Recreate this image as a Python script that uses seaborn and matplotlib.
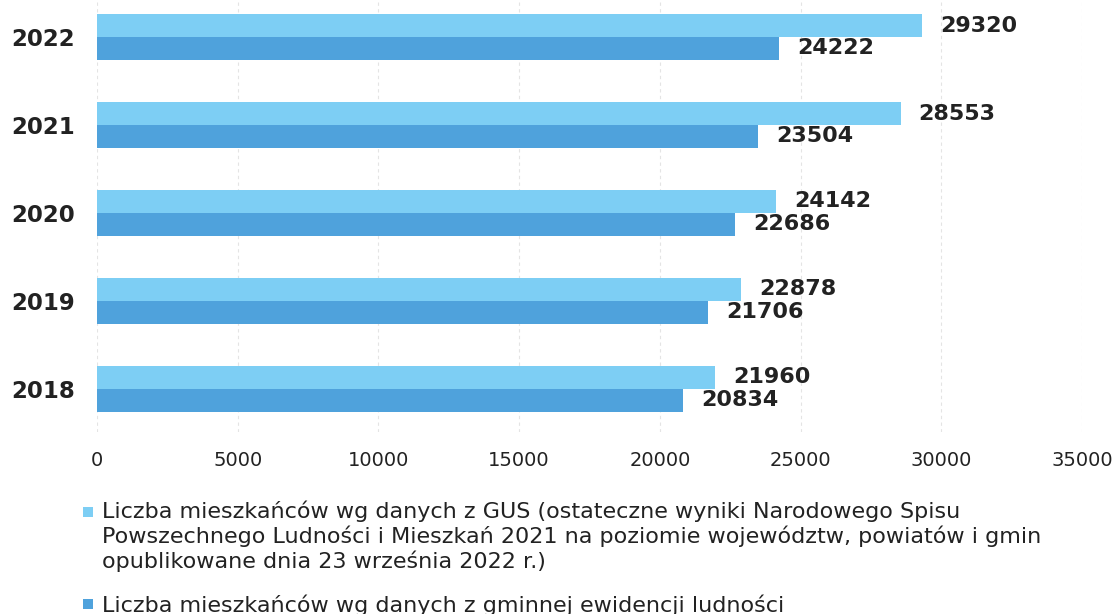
import pandas as pd
import matplotlib.pyplot as plt
import seaborn as sns
from matplotlib.patches import Rectangle

# data
years = ["2022", "2021", "2020", "2019", "2018"]
gus = [29320, 28553, 24142, 22878, 21960]
gminna = [24222, 23504, 22686, 21706, 20834]

label_gus = ("Liczba mieszkańców wg danych z GUS (ostateczne wyniki Narodowego Spisu\n"
             "Powszechnego Ludności i Mieszkań 2021 na poziomie województw, powiatów i gmin\n"
             "opublikowane dnia 23 września 2022 r.)")
label_gm = "Liczba mieszkańców wg danych z gminnej ewidencji ludności"
colors = ["#7DCEF4", "#4FA2DC"]

df = pd.DataFrame({
    "rok": years * 2,
    "wartosc": gus + gminna,
    "zrodlo": [label_gus] * len(years) + [label_gm] * len(years),
})

sns.set_theme(style="white")
plt.rcParams["font.family"] = ["DejaVu Sans"]

W, H = 1120, 614
fig = plt.figure(figsize=(W / 100, H / 100), dpi=100)
ax = fig.add_axes([0.0866, 0.2964, 0.8795, 0.7036])

sns.barplot(data=df, x="wartosc", y="rok", hue="zrodlo", orient="h",
            palette=colors, width=0.52, errorbar=None,
            saturation=1, linewidth=0, ax=ax)

for cont in ax.containers:
    ax.bar_label(cont, padding=13, fontsize=16, fontweight="bold", color="#222222")

ax.set_xlim(0, 35000)
ax.set_ylim(4.49, -0.42)
ax.set_xticks(range(0, 35001, 5000))
ax.set_xlabel("")
ax.set_ylabel("")
ax.grid(axis="x", color="#e4e4e4", linewidth=0.8, linestyle=(0, (3, 3)))
ax.set_axisbelow(True)
sns.despine(ax=ax, left=True, bottom=True)
ax.tick_params(axis="x", length=0, pad=14, labelsize=14, labelcolor="#222222")
ax.tick_params(axis="y", length=0, pad=16, labelsize=16.5, labelcolor="#222222")
for t in ax.get_yticklabels():
    t.set_fontweight("bold")

# legend below the plot (second entry runs off the bottom edge like in the scan)
ax.get_legend().remove()
# (label, colour, top of square in px, baseline of last text line in px)
entries = [(label_gus, colors[0], 507, 568), (label_gm, colors[1], 599, 612)]
for text, col, sq_top, base in entries:
    fig.patches.append(Rectangle((83 / W, 1 - (sq_top + 10) / H), 10 / W, 10 / H,
                                 transform=fig.transFigure, facecolor=col,
                                 edgecolor="none"))
    fig.text(102 / W, 1 - base / H, text, fontsize=16, color="#222222",
             va="baseline", ha="left")

fig.savefig("out.png", dpi=100)
